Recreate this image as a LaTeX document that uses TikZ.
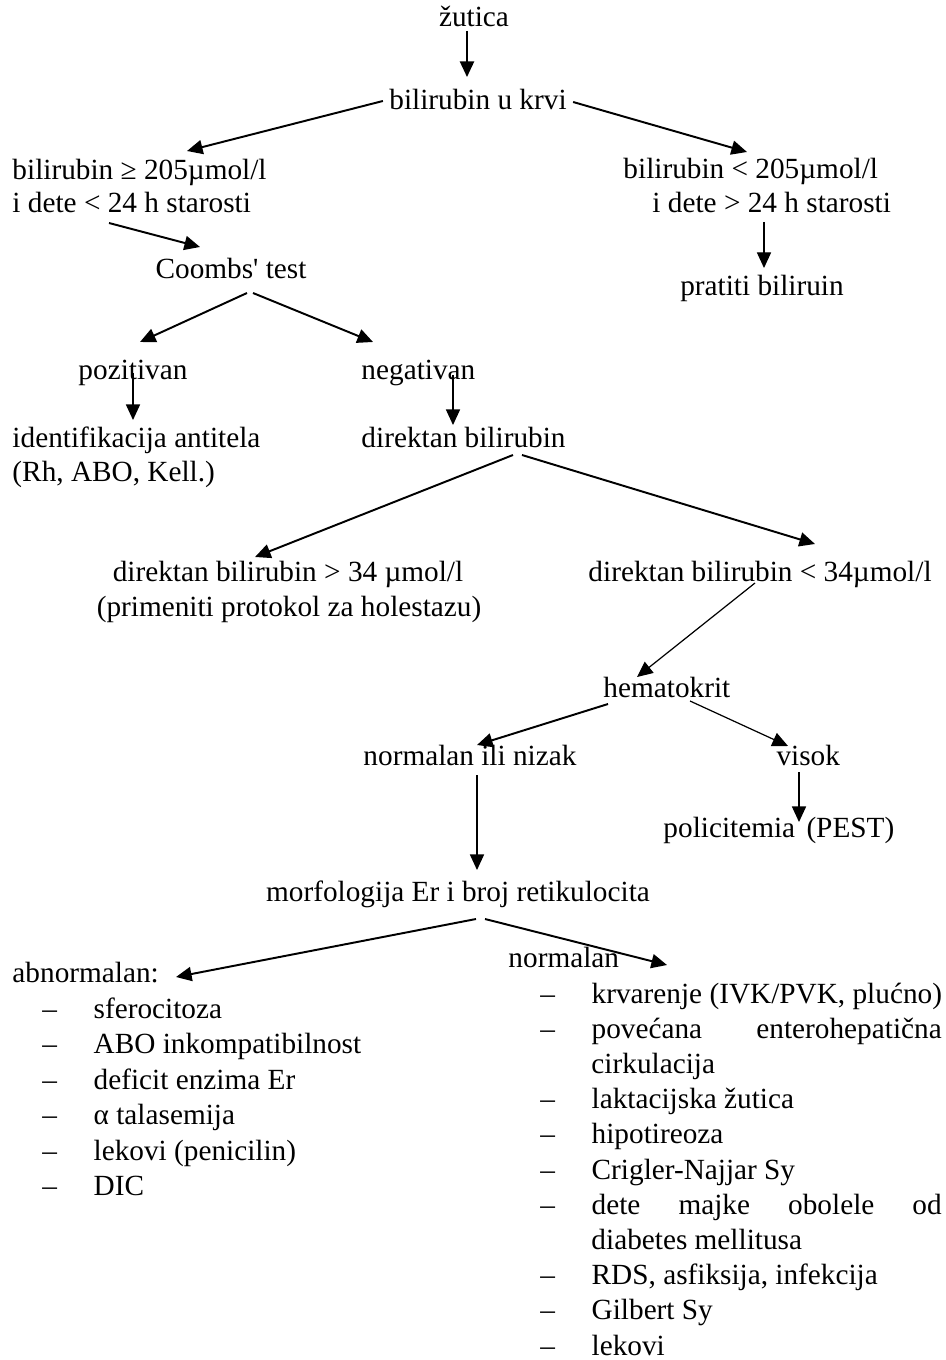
\documentclass[tikz,border=0pt]{standalone}
\usepackage{fontspec}
\setmainfont{Liberation Serif}
\usetikzlibrary{arrows.meta,calc}

% dash in front of a list item
\newcommand{\itm}{\makebox[21pt][l]{–}}

\begin{document}
\begin{tikzpicture}[x=0.41pt, y=-0.41pt, font=\fontsize{12}{14}\selectfont,
    lbl/.style={inner sep=0pt, anchor=base west},
    mid/.style={inner sep=0pt, anchor=base},
    arr/.style={-{Triangle[length=6.4pt,width=5.8pt]}, line width=0.8pt},
    tarr/.style={arr, line width=0.5pt}]

  \useasboundingbox (0,0) rectangle (945,1360);

  % Top levels
  \node[mid] (zut) at (474,27) {žutica};
  \node[mid] (krvi) at (478,110) {bilirubin u krvi};
  \node[lbl] (hi1) at (12,180) {bilirubin ≥ 205µmol/l};
  \node[lbl] (hi2) at (12,213) {i dete < 24 h starosti};
  \node[lbl] (lo1) at (623,179) {bilirubin < 205µmol/l};
  \node[lbl] (lo2) at (652,213) {i dete > 24 h starosti};
  \node[mid] (coombs) at (231,279) {Coombs\textquotesingle{} test};
  \node[mid] (prat) at (762,295) {pratiti biliruin};

  % Coombs branch
  \node[lbl] (poz) at (78,379) {pozitivan};
  \node[lbl] (neg) at (361,379) {negativan};
  \node[lbl] (ident1) at (12,447) {identifikacija antitela};
  \node[lbl] (ident2) at (12,481) {(Rh, ABO, Kell.)};
  \node[lbl] (dirb) at (361,447) {direktan bilirubin};
  \node[mid] (dhi1) at (288,581) {direktan bilirubin > 34 µmol/l};
  \node[mid] (dhi2) at (289,616) {(primeniti protokol za holestazu)};
  \node[lbl] (dlo) at (588,581) {direktan bilirubin < 34µmol/l};

  % Hematokrit branch
  \node[lbl] (hem) at (603,697) {hematokrit};
  \node[lbl] (nizak) at (363,765) {normalan ili nizak};
  \node[lbl] (visok) at (776,765) {visok};
  \node[lbl] (polic) at (663,837) {policitemia};
  \node[lbl] (pest) at (806,837) {(PEST)};
  \node[mid] (morf) at (458,901) {morfologija Er i broj retikulocita};
  \node[lbl] (abn) at (12,982) {abnormalan:};
  \node[lbl] (norm) at (508,967) {normalan};

  % Left list
  \node[lbl] (l1) at (42,1018) {\itm sferocitoza};
  \node[lbl] (l2) at (42,1053.5) {\itm ABO inkompatibilnost};
  \node[lbl] (l3) at (42,1089) {\itm deficit enzima Er};
  \node[lbl] (l4) at (42,1124.5) {\itm α talasemija};
  \node[lbl] (l5) at (42,1160) {\itm lekovi (penicilin)};
  \node[lbl] (l6) at (42,1195.5) {\itm DIC};

  % Right list
  \node[lbl] (r1) at (540,1003) {\itm krvarenje (IVK/PVK, plućno)};
  \node[lbl] (r2) at (540,1038.2) {\itm\makebox[143.5pt][s]{povećana enterohepatična}};
  \node[lbl] (r3) at (591,1073.4) {cirkulacija};
  \node[lbl] (r4) at (540,1108.6) {\itm laktacijska žutica};
  \node[lbl] (r5) at (540,1143.8) {\itm hipotireoza};
  \node[lbl] (r6) at (540,1179) {\itm Crigler-Najjar Sy};
  \node[lbl] (r7) at (540,1214.2) {\itm\makebox[143.5pt][s]{dete majke obolele od}};
  \node[lbl] (r8) at (591,1249.4) {diabetes mellitusa};
  \node[lbl] (r9) at (540,1284.6) {\itm RDS, asfiksija, infekcija};
  \node[lbl] (r10) at (540,1319.8) {\itm Gilbert Sy};
  \node[lbl] (r11) at (540,1355) {\itm lekovi};

  % Arrows
  \draw[arr] ($(zut.base)+(-7,4)$) -- ($(krvi.base)+(-11,-33)$);
  \draw[arr] ($(krvi.base west)+(-6,-9)$) -- ($(hi1.base west)+(175,-29)$);
  \draw[arr] ($(krvi.base east)+(6,-8)$) -- ($(lo1.base west)+(124,-27)$);
  \draw[arr] ($(hi2.base west)+(97,10)$) -- ($(coombs.base)+(-31,-32)$);
  \draw[tarr] ($(lo2.base west)+(112,9)$) -- ($(prat.base)+(2,-27)$);
  \draw[arr] ($(coombs.base)+(16,14)$) -- ($(poz.base west)+(62,-37)$);
  \draw[arr] ($(coombs.base)+(22,14)$) -- ($(neg.base west)+(12,-37)$);
  \draw[tarr] ($(poz.base west)+(55,-6)$) -- ($(ident1.base west)+(121,-27)$);
  \draw[tarr] ($(neg.base west)+(92,-4)$) -- ($(dirb.base west)+(92,-22)$);
  \draw[arr] ($(dirb.base west)+(152,8)$) -- ($(dhi1.base)+(-33,-24)$);
  \draw[arr] ($(dirb.base west)+(161,8)$) -- ($(dlo.base west)+(227,-37)$);
  \draw[tarr] ($(dlo.base west)+(167,2)$) -- ($(hem.base west)+(34,-20)$);
  \draw[arr] ($(hem.base west)+(5,7)$) -- ($(nizak.base west)+(114,-20)$);
  \draw[tarr] ($(hem.base west)+(87,4)$) -- ($(visok.base west)+(12,-19)$);
  \draw[tarr] ($(visok.base west)+(23,7)$) -- ($(polic.base west)+(136,-15)$);
  \draw[tarr] ($(nizak.base west)+(114,10)$) -- ($(morf.base)+(19,-31)$);
  \draw[arr] ($(morf.base)+(18,18)$) -- ($(abn.base west)+(164,-5)$);
  \draw[arr] ($(morf.base)+(27,18)$) -- ($(norm.base west)+(159,-2)$);
\end{tikzpicture}
\end{document}
